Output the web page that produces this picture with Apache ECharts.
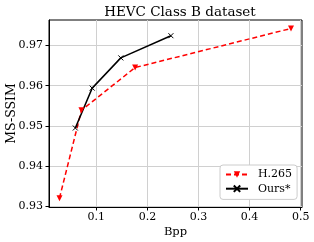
<!DOCTYPE html>
<html><head><meta charset="utf-8">
<script src="https://cdn.jsdelivr.net/npm/echarts@6/dist/echarts.min.js"></script>
<style>html,body{margin:0;padding:0;background:#fff}#c{width:314px;height:242px}</style>
</head><body><div id="c"></div>
<script>
const h265Bpp = [0.028, 0.071, 0.176, 0.481];
const h265Ssim = [0.9321, 0.9539, 0.9645, 0.9742];
const oursBpp = [0.059, 0.092, 0.148, 0.246];
const oursSsim = [0.9495, 0.9594, 0.9669, 0.9724];
const xTicks = [0.1, 0.2, 0.3, 0.4, 0.5];
const yTicks = [0.93, 0.94, 0.95, 0.96, 0.97];
const FONT = 'DejaVu Serif';

const chart = echarts.init(document.getElementById('c'), null, {renderer: 'canvas'});
const axisCommon = {
  type: 'value',
  axisLine: {show: true, onZero: false, lineStyle: {color: '#000', width: 1}},
  axisTick: {show: true, inside: false, length: 3.5, lineStyle: {color: '#000'}},
  splitLine: {show: true, lineStyle: {color: '#d0d0d0', width: 1}},
  nameLocation: 'middle',
  nameMoveOverlap: false
};
chart.setOption({
  animation: false,
  backgroundColor: '#fff',
  title: {
    text: 'HEVC Class B dataset', left: 175, top: 0, textAlign: 'center',
    textStyle: {fontFamily: FONT, fontSize: 13.5, fontWeight: 'normal', color: '#000'}
  },
  grid: {left: 49, right: 12, top: 20, bottom: 35, show: true, borderColor: '#000', borderWidth: 1,
    containLabel: false, outerBoundsMode: 'none'},
  xAxis: Object.assign({}, axisCommon, {
    min: 0.0075, max: 0.5025,
    name: 'Bpp', nameGap: 19,
    nameTextStyle: {fontFamily: FONT, fontSize: 11.5, color: '#000'},
    axisTick: Object.assign({}, axisCommon.axisTick, {customValues: xTicks}),
    axisLabel: {customValues: xTicks, fontFamily: FONT, fontSize: 11, color: '#000', margin: 5,
      formatter: v => (+v).toFixed(1)}
  }),
  yAxis: Object.assign({}, axisCommon, {
    min: 0.9299, max: 0.9763,
    name: 'MS-SSIM', nameGap: 31,
    nameTextStyle: {fontFamily: FONT, fontSize: 12.5, color: '#000'},
    axisTick: Object.assign({}, axisCommon.axisTick, {customValues: yTicks}),
    axisLabel: {customValues: yTicks, fontFamily: FONT, fontSize: 11, color: '#000', margin: 6,
      formatter: v => (+v).toFixed(2)}
  }),
  legend: {
    left: 220, top: 165, orient: 'vertical',
    padding: [4, 5, 5, 5], itemGap: 3, itemWidth: 22, itemHeight: 8,
    borderColor: '#cccccc', borderWidth: 1, borderRadius: 3, backgroundColor: '#fff',
    textStyle: {fontFamily: FONT, fontSize: 11, color: '#000', padding: [0, 0, 0, 5]},
    data: ['H.265', 'Ours*']
  },
  series: [
    {
      name: 'H.265', type: 'line',
      data: h265Bpp.map((x, i) => [x, h265Ssim[i]]),
      symbol: 'triangle', symbolRotate: 180, symbolSize: 6,
      lineStyle: {color: '#ff0000', width: 1.5, type: [5, 3]},
      itemStyle: {color: '#ff0000'}
    },
    {
      name: 'Ours*', type: 'line',
      data: oursBpp.map((x, i) => [x, oursSsim[i]]),
      symbol: 'path://M0,0L10,10M10,0L0,10', symbolSize: 5,
      lineStyle: {color: '#000', width: 1.5},
      itemStyle: {color: 'none', borderColor: '#000', borderWidth: 1}
    }
  ]
});
</script></body></html>
